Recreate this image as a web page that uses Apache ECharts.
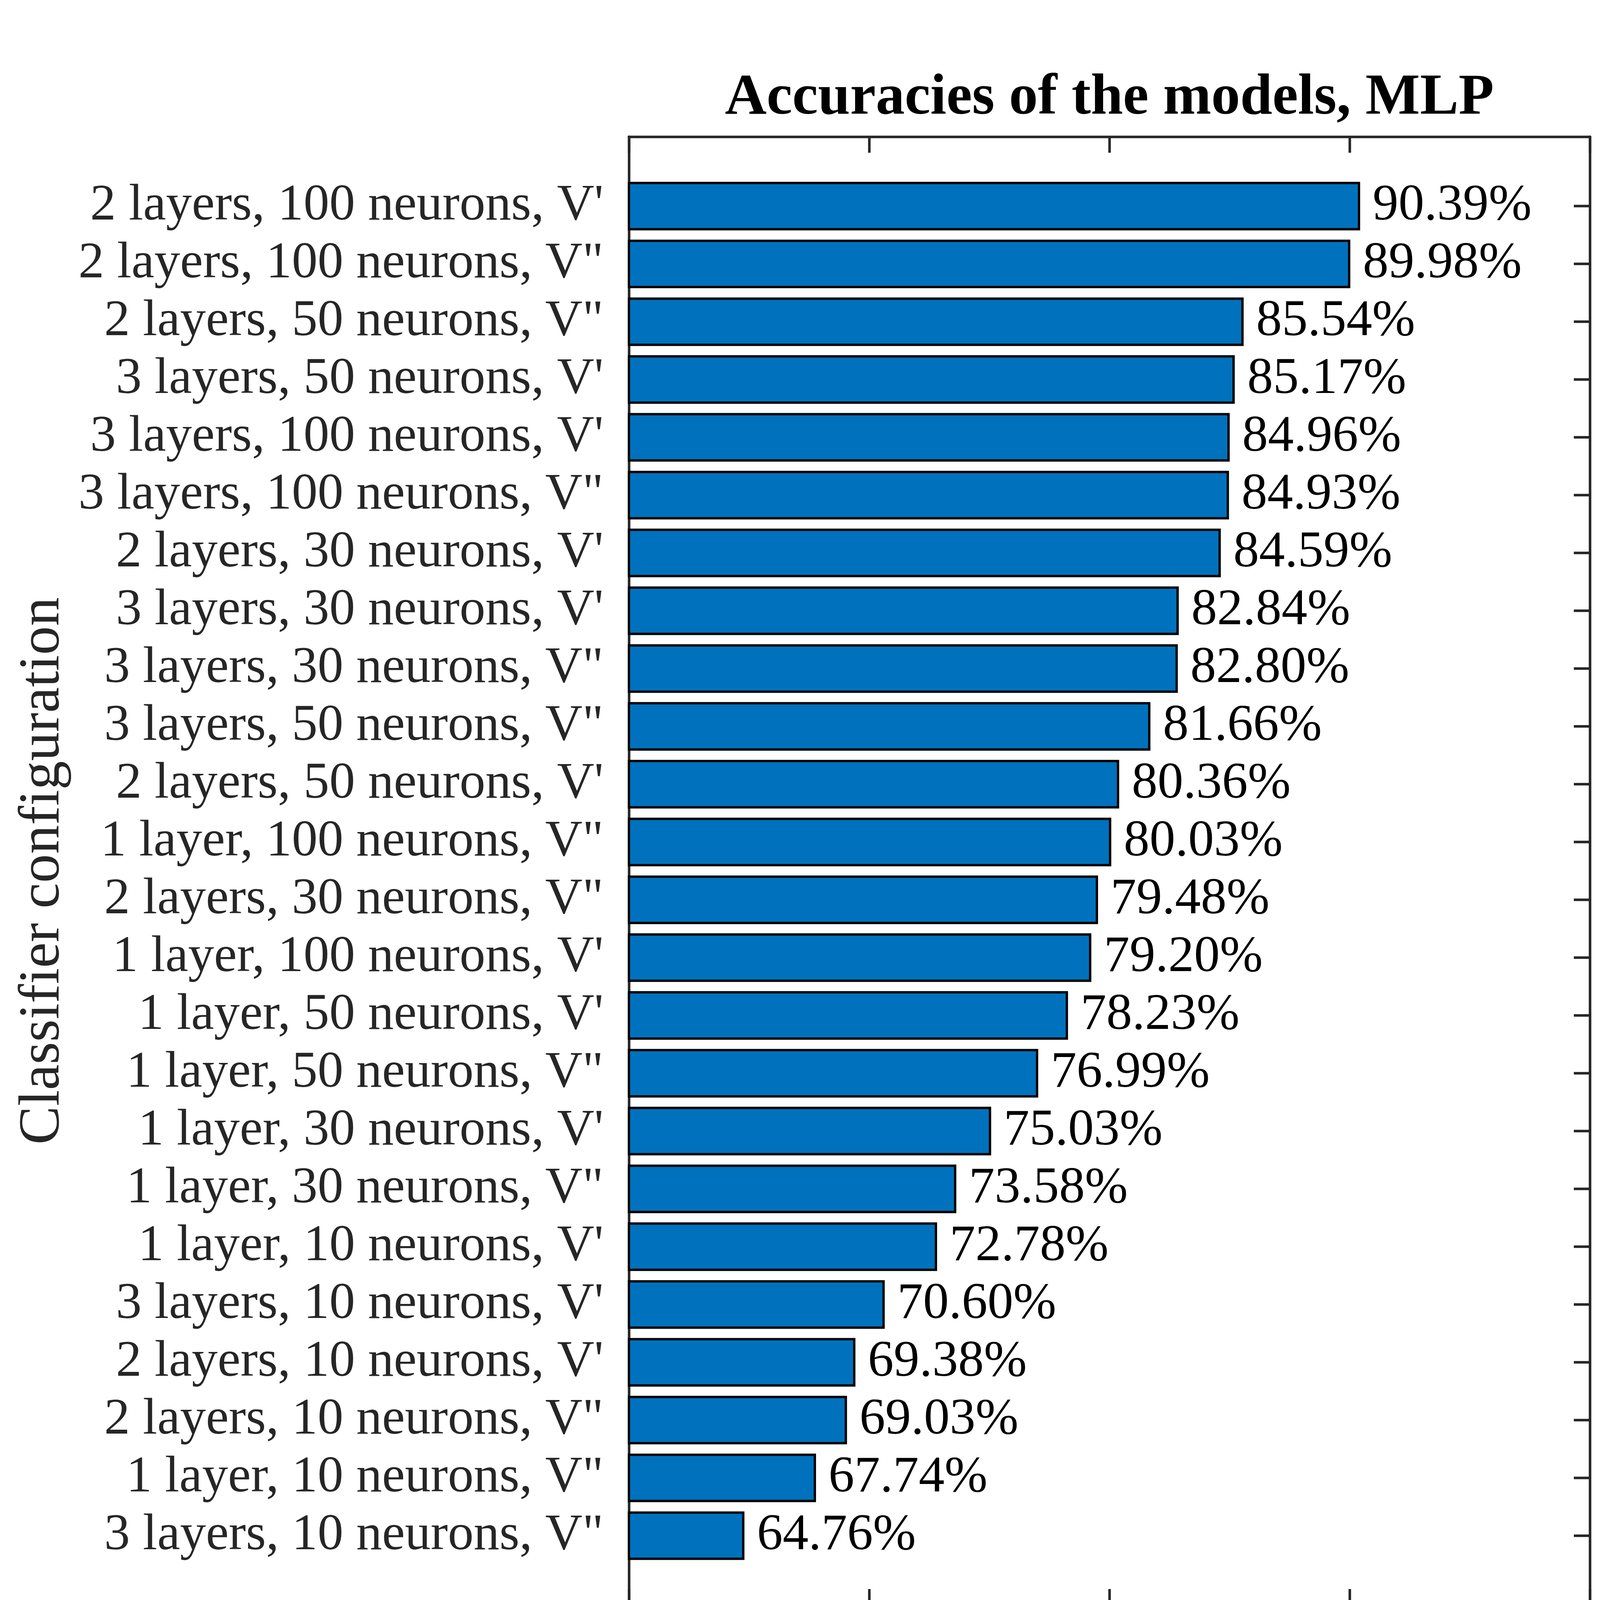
<!DOCTYPE html>
<html>
<head>
<meta charset="utf-8">
<script src="https://cdn.jsdelivr.net/npm/echarts@6/dist/echarts.min.js"></script>
<style>html,body{margin:0;padding:0;background:#fff}#c{width:4216px;height:4620px}</style>
</head>
<body>
<div id="c"></div>
<script>
const categories = [
  "2 layers, 100 neurons, V'",
  '2 layers, 100 neurons, V"',
  '2 layers, 50 neurons, V"',
  "3 layers, 50 neurons, V'",
  "3 layers, 100 neurons, V'",
  '3 layers, 100 neurons, V"',
  "2 layers, 30 neurons, V'",
  "3 layers, 30 neurons, V'",
  '3 layers, 30 neurons, V"',
  '3 layers, 50 neurons, V"',
  "2 layers, 50 neurons, V'",
  '1 layer, 100 neurons, V"',
  '2 layers, 30 neurons, V"',
  "1 layer, 100 neurons, V'",
  "1 layer, 50 neurons, V'",
  '1 layer, 50 neurons, V"',
  "1 layer, 30 neurons, V'",
  '1 layer, 30 neurons, V"',
  "1 layer, 10 neurons, V'",
  "3 layers, 10 neurons, V'",
  "2 layers, 10 neurons, V'",
  '2 layers, 10 neurons, V"',
  '1 layer, 10 neurons, V"',
  '3 layers, 10 neurons, V"'
];
const accuracies = [90.39, 89.98, 85.54, 85.17, 84.96, 84.93, 84.59, 82.84, 82.80, 81.66, 80.36, 80.03,
  79.48, 79.20, 78.23, 76.99, 75.03, 73.58, 72.78, 70.60, 69.38, 69.03, 67.74, 64.76];
const xMin = 60, xMax = 100, xStep = 10;
const titleText = 'Accuracies of the models, MLP';
const xName = 'Accuracy';
const yName = 'Classifier configuration';

const catIdx = categories.map((c, i) => i);
const FONT = '"Liberation Serif", "Times New Roman", serif';
const AX = '#262626';
const LW = 6.5;
const TICK_FS = 132;
const NAME_FS = 148;
const yPad = 1.2;

const chart = echarts.init(document.getElementById('c'), null, {renderer: 'canvas'});

const lineStyle = {color: AX, width: LW};
const tickStyle = {color: AX, width: LW};

chart.setOption({
  backgroundColor: '#ffffff',
  animation: false,
  grid: {left: 1610, right: 146, top: 350, bottom: 511, containLabel: false},
  xAxis: [{
    type: 'value', position: 'bottom', min: xMin, max: xMax, interval: xStep,
    axisLine: {show: true, onZero: false, lineStyle},
    axisTick: {show: true, inside: true, length: 41, lineStyle: tickStyle},
    axisLabel: {show: true, margin: 80, fontSize: TICK_FS, fontFamily: FONT, color: AX},
    splitLine: {show: false},
    name: xName, nameLocation: 'middle', nameGap: 252,
    nameTextStyle: {fontSize: NAME_FS, fontFamily: FONT, color: AX}
  }, {
    type: 'value', position: 'top', min: xMin, max: xMax, interval: xStep,
    axisLine: {show: true, onZero: false, lineStyle},
    axisTick: {show: true, inside: true, length: 41, lineStyle: tickStyle},
    axisLabel: {show: false},
    splitLine: {show: false},
    name: titleText, nameLocation: 'middle', nameGap: 23,
    nameTextStyle: {fontSize: NAME_FS, fontWeight: 'bold', fontFamily: FONT, color: '#000'}
  }],
  yAxis: [{
    type: 'value', position: 'left', inverse: true,
    min: -yPad, max: categories.length - 1 + yPad,
    axisLine: {show: true, onZero: false, lineStyle},
    axisTick: {show: true, inside: true, length: 41, lineStyle: tickStyle, customValues: catIdx},
    axisLabel: {show: true, margin: 65, fontSize: TICK_FS, fontFamily: FONT, color: AX,
      customValues: catIdx, formatter: v => categories[Math.round(v)]},
    splitLine: {show: false},
    name: yName, nameLocation: 'middle', nameGap: 1425, nameRotate: 90,
    nameTextStyle: {fontSize: NAME_FS, fontFamily: FONT, color: AX}
  }, {
    type: 'value', position: 'right', inverse: true,
    min: -yPad, max: categories.length - 1 + yPad,
    axisLine: {show: true, onZero: false, lineStyle},
    axisTick: {show: true, inside: true, length: 41, lineStyle: tickStyle, customValues: catIdx},
    axisLabel: {show: false},
    splitLine: {show: false}
  }],
  series: [{
    type: 'custom',
    xAxisIndex: 0, yAxisIndex: 0,
    data: accuracies.map((v, i) => [v, i]),
    encode: {x: 0, y: 1},
    renderItem: function (params, api) {
      const v = api.value(0), i = api.value(1);
      const p0 = api.coord([xMin, i]);
      const p1 = api.coord([v, i]);
      const h = api.size([0, 1])[1] * 0.8;
      return {
        type: 'rect',
        shape: {x: p0[0], y: p0[1] - h / 2, width: p1[0] - p0[0], height: h},
        style: {fill: '#0072BD', stroke: '#000000', lineWidth: 6},
        textContent: {
          style: {text: v.toFixed(2) + '%', fill: '#000000', fontSize: TICK_FS, fontFamily: FONT}
        },
        textConfig: {position: 'right', distance: 32}
      };
    }
  }]
});
</script>
</body>
</html>
